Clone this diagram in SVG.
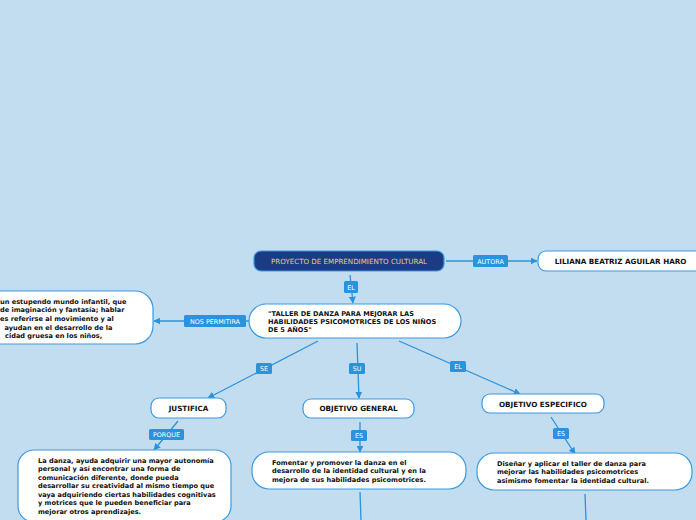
<svg xmlns="http://www.w3.org/2000/svg" width="696" height="520" viewBox="0 0 696 520">
<defs>
<style>
.bg{fill:#c3ddf0}
.node{fill:#ffffff;stroke:#3a9ae2;stroke-width:1.2}
.root{fill:#1c3b85;stroke:#3a9ae2;stroke-width:1.2}
.t{font-family:"DejaVu Sans",Verdana,sans-serif;font-weight:bold;font-size:6.6px;fill:#111}
.h{font-size:7.2px}
.tc{text-anchor:middle}
.rt{font-family:"DejaVu Sans",Verdana,sans-serif;font-size:7.1px;fill:#e2d46c;text-anchor:middle}
.lbl rect{fill:#2a93dd}
.lbl text{font-family:"DejaVu Sans",Verdana,sans-serif;font-size:6.4px;fill:#fff;text-anchor:middle}
.c{stroke:#2a93dd;stroke-width:1.3;fill:none}
</style>
<marker id="ah" viewBox="0 0 10 10" refX="9" refY="5" markerWidth="7" markerHeight="7" orient="auto" markerUnits="userSpaceOnUse">
<path d="M0,0 L10,5 L0,10 z" fill="#2a93dd"/>
</marker>
</defs>
<rect class="bg" x="0" y="0" width="696" height="520"/>

<g id="connectors">
<line class="c" x1="446" y1="261" x2="537" y2="261" marker-end="url(#ah)"/>
<line class="c" x1="350" y1="275" x2="353" y2="303" marker-end="url(#ah)"/>
<line class="c" x1="249" y1="321" x2="154" y2="321" marker-end="url(#ah)"/>
<line class="c" x1="318" y1="341" x2="208" y2="398" marker-end="url(#ah)"/>
<line class="c" x1="357" y1="343" x2="359" y2="398" marker-end="url(#ah)"/>
<line class="c" x1="399" y1="341" x2="520" y2="394" marker-end="url(#ah)"/>
<line class="c" x1="178" y1="421" x2="154" y2="450" marker-end="url(#ah)"/>
<line class="c" x1="360" y1="422" x2="360" y2="452" marker-end="url(#ah)"/>
<line class="c" x1="551" y1="417" x2="575" y2="454" marker-end="url(#ah)"/>
<line class="c" x1="360" y1="492" x2="361" y2="520"/>
<line class="c" x1="585" y1="494" x2="586" y2="520"/>
<g class="lbl"><rect x="473" y="255" width="35" height="12" rx="1.5"/><text x="490.5" y="263.5">AUTORA</text></g>
<g class="lbl"><rect x="344" y="281" width="14" height="12" rx="1.5"/><text x="351" y="289.5">EL</text></g>
<g class="lbl"><rect x="184" y="315" width="62" height="12" rx="1.5"/><text x="215" y="323.5">NOS PERMITIRA</text></g>
<g class="lbl"><rect x="256" y="363" width="16" height="11" rx="1.5"/><text x="264" y="371">SE</text></g>
<g class="lbl"><rect x="349" y="363" width="16" height="11" rx="1.5"/><text x="357" y="371">SU</text></g>
<g class="lbl"><rect x="450" y="361" width="16" height="11" rx="1.5"/><text x="458" y="369">EL</text></g>
<g class="lbl"><rect x="149" y="429" width="35" height="11" rx="1.5"/><text x="166.5" y="437">PORQUE</text></g>
<g class="lbl"><rect x="351" y="430" width="16" height="11" rx="1.5"/><text x="359" y="438">ES</text></g>
<g class="lbl"><rect x="553" y="428" width="16" height="11" rx="1.5"/><text x="561" y="436">ES</text></g>
</g>

<g id="root">
<rect class="root" x="254" y="251" width="190" height="20" rx="7"/>
<text class="rt" x="349" y="263.5">PROYECTO DE EMPRENDIMIENTO CULTURAL</text>
</g>

<g id="autora">
<rect class="node" x="538" y="251" width="170" height="20" rx="8"/>
<text class="t h tc" x="620.5" y="263.8">LILIANA BEATRIZ AGUILAR HARO</text>
</g>

<g id="taller">
<rect class="node" x="249" y="304" width="212" height="34" rx="17"/>
<text class="t" x="268" y="316">"TALLER DE DANZA PARA MEJORAR LAS</text>
<text class="t" x="268" y="324">HABILIDADES PSICOMOTRICES DE LOS NIÑOS</text>
<text class="t" x="268" y="332">DE 5 AÑOS"</text>
</g>

<g id="permitira">
<rect class="node" x="-30" y="291" width="183" height="53" rx="18"/>
<text class="t" x="0" y="303.5">un estupendo mundo infantil, que</text>
<text class="t" x="0" y="312.3">de imaginación y fantasía; hablar</text>
<text class="t" x="0" y="321">es referirse al movimiento y al</text>
<text class="t" x="4.5" y="329.6">ayudan en el desarrollo de la</text>
<text class="t" x="5" y="338.3">cidad gruesa en los niños,</text>
</g>

<g id="justifica">
<rect class="node" x="151" y="398" width="75" height="20" rx="8"/>
<text class="t h tc" x="188.5" y="410.6">JUSTIFICA</text>
</g>

<g id="objgeneral">
<rect class="node" x="303" y="399" width="111" height="19" rx="8"/>
<text class="t h tc" x="358.5" y="411">OBJETIVO GENERAL</text>
</g>

<g id="objespecifico">
<rect class="node" x="482" y="394" width="122" height="19" rx="8"/>
<text class="t h tc" x="543" y="406.5">OBJETIVO ESPECIFICO</text>
</g>

<g id="porque">
<rect class="node" x="18" y="450" width="213" height="72" rx="16"/>
<text class="t" x="38" y="462.5">La danza, ayuda adquirir una mayor autonomía</text>
<text class="t" x="38" y="471">personal y así encontrar una forma de</text>
<text class="t" x="38" y="479.5">comunicación diferente, donde pueda</text>
<text class="t" x="38" y="488">desarrollar su creatividad al mismo tiempo que</text>
<text class="t" x="38" y="496.5">vaya adquiriendo ciertas habilidades cognitivas</text>
<text class="t" x="38" y="505">y motrices que le pueden beneficiar para</text>
<text class="t" x="38" y="513.5">mejorar otros aprendizajes.</text>
</g>

<g id="general">
<rect class="node" x="252" y="452" width="214" height="37" rx="17"/>
<text class="t" x="272" y="464.5">Fomentar y promover la danza en el</text>
<text class="t" x="272" y="473">desarrollo de la identidad cultural y en la</text>
<text class="t" x="272" y="481.5">mejora de sus habilidades psicomotrices.</text>
</g>

<g id="especifico">
<rect class="node" x="477" y="453" width="215" height="37" rx="17"/>
<text class="t" x="497" y="465.5">Diseñar y aplicar el taller de danza para</text>
<text class="t" x="497" y="474">mejorar las habilidades psicomotrices</text>
<text class="t" x="497" y="482.5">asimismo fomentar la identidad cultural.</text>
</g>
</svg>
